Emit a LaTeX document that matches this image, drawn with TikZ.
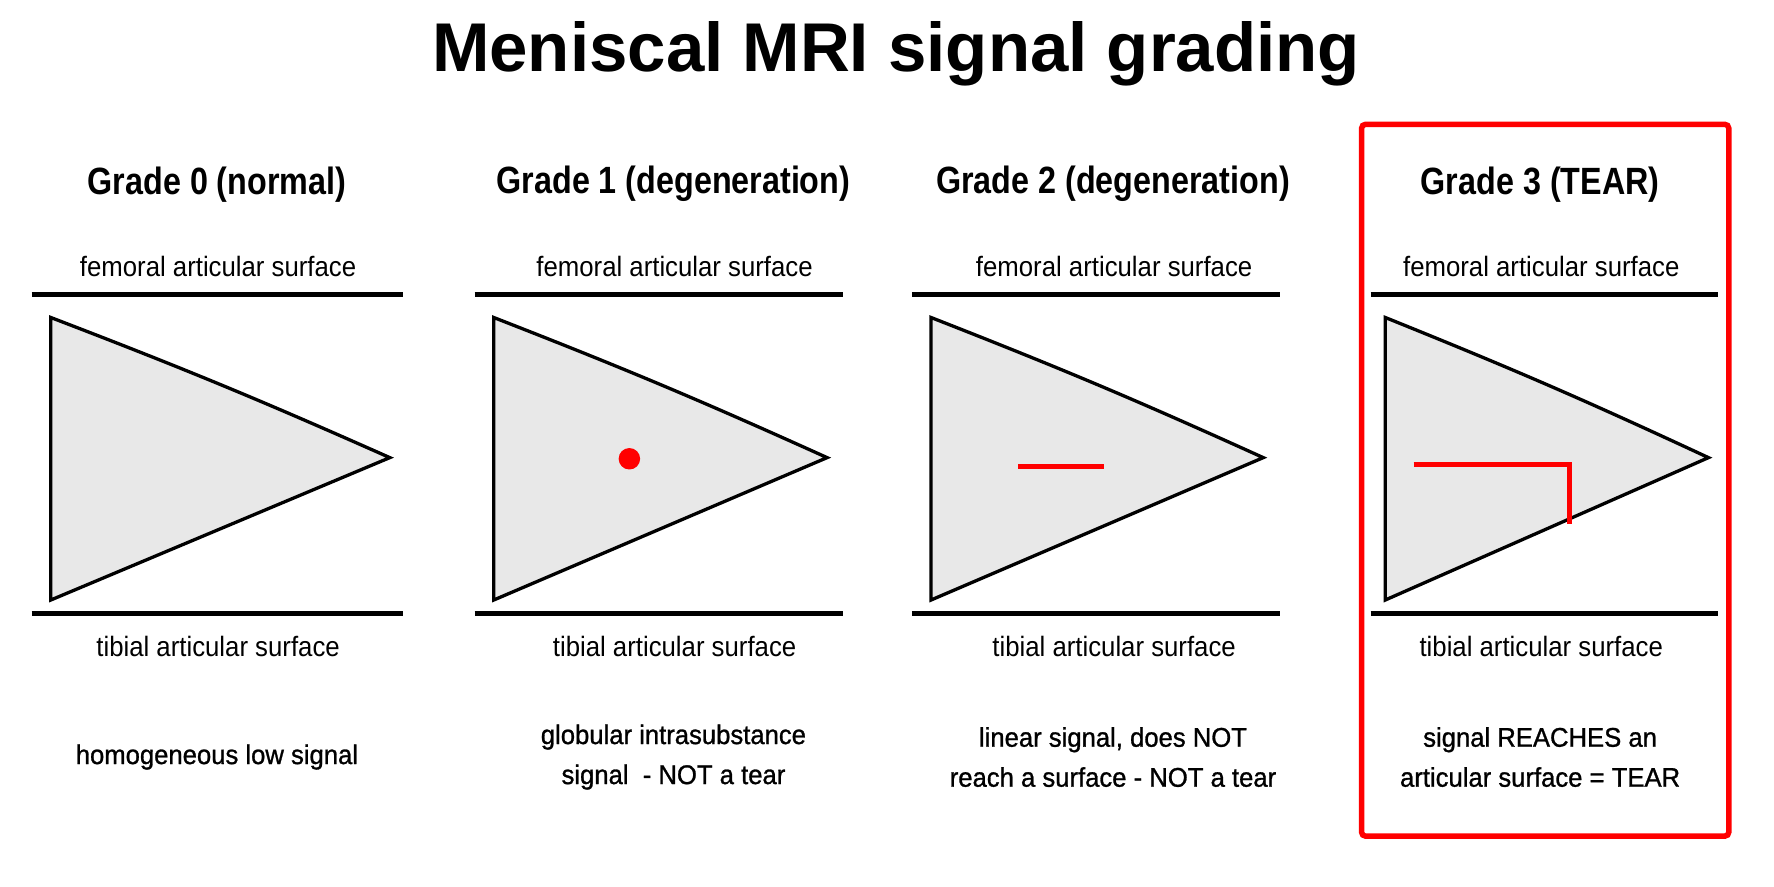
\documentclass[tikz,border=0pt]{standalone}
\usepackage{fontspec}
\setmainfont{Liberation Sans}
\newfontfamily\hdr[FakeStretch=0.85]{Liberation Sans}
\newfontfamily\lab[FakeStretch=0.92]{Liberation Sans}
\newfontfamily\dsc[FakeStretch=0.95,FakeBold=1]{Liberation Sans}
\begin{document}
\begin{tikzpicture}[x=1.13pt,y=-1.13pt,
  surf/.style={line width=5pt},
  men/.style={draw, line width=3.3pt, fill=gray!18, line join=miter},
  sig/.style={red, line width=5.5pt},
  hd/.style={font=\hdr\bfseries\fontsize{38}{44}\selectfont},
  lb/.style={font=\lab\fontsize{28}{32}\selectfont},
  ds/.style={font=\dsc\fontsize{27}{40}\selectfont, align=center}]
\useasboundingbox[fill=white] (0,0) rectangle (1570,785);
\node[font=\bfseries\fontsize{69}{76}\selectfont] (title) at (793,48) {Meniscal MRI signal grading};
\foreach \i/\lx/\rx/\tx/\ax/\hx/\hd/\ds in {
  0/28/357/45/345/192/{Grade 0 (normal)}/{homogeneous low signal},
  1/420/746/437/732/596/{Grade 1 (degeneration)}/{globular intrasubstance\\signal\ \ - NOT a tear},
  2/807/1133/824/1118/985/{Grade 2 (degeneration)}/{linear signal, does NOT\\reach a surface - NOT a tear},
  3/1213/1520/1226/1512/1363/{Grade 3 (TEAR)}/{signal REACHES an\\articular surface = TEAR}}{
  \node[hd] (h\i) at (\hx,163) {\hd};
  \node[lb] (f\i) at (\hx+1,236) {femoral articular surface};
  \coordinate (fa\i) at (\lx,261); \coordinate (fb\i) at (\rx,261);
  \draw[surf] (fa\i) -- (fb\i);
  \coordinate (ba\i) at (\lx,543); \coordinate (bb\i) at (\rx,543);
  \draw[surf] (ba\i) -- (bb\i);
  \node[lb] (t\i) at (\hx+1,572) {tibial articular surface};
  \coordinate (m1\i) at (\tx,281); \coordinate (m2\i) at (\ax,405); \coordinate (m3\i) at (\tx,531);
  \draw[men] (m1\i) to[bend left=1.5] (m2\i) -- (m3\i) -- cycle;
  \node[ds] (d\i) at (\hx,670) {\ds};
}
\fill[red] (557,406) circle (9.5);
\coordinate (s2a) at (901,413); \coordinate (s2b) at (977,413);
\draw[sig] (s2a) -- (s2b);
\coordinate (s3a) at (1251,411); \coordinate (s3b) at (1389,411); \coordinate (s3c) at (1389,464);
\draw[sig, line join=miter] (s3a) -- (s3b) -- (s3c);
\draw[red, line width=5.5pt, rounded corners=4pt] (1205,110) rectangle (1530,740);
\end{tikzpicture}
\end{document}
